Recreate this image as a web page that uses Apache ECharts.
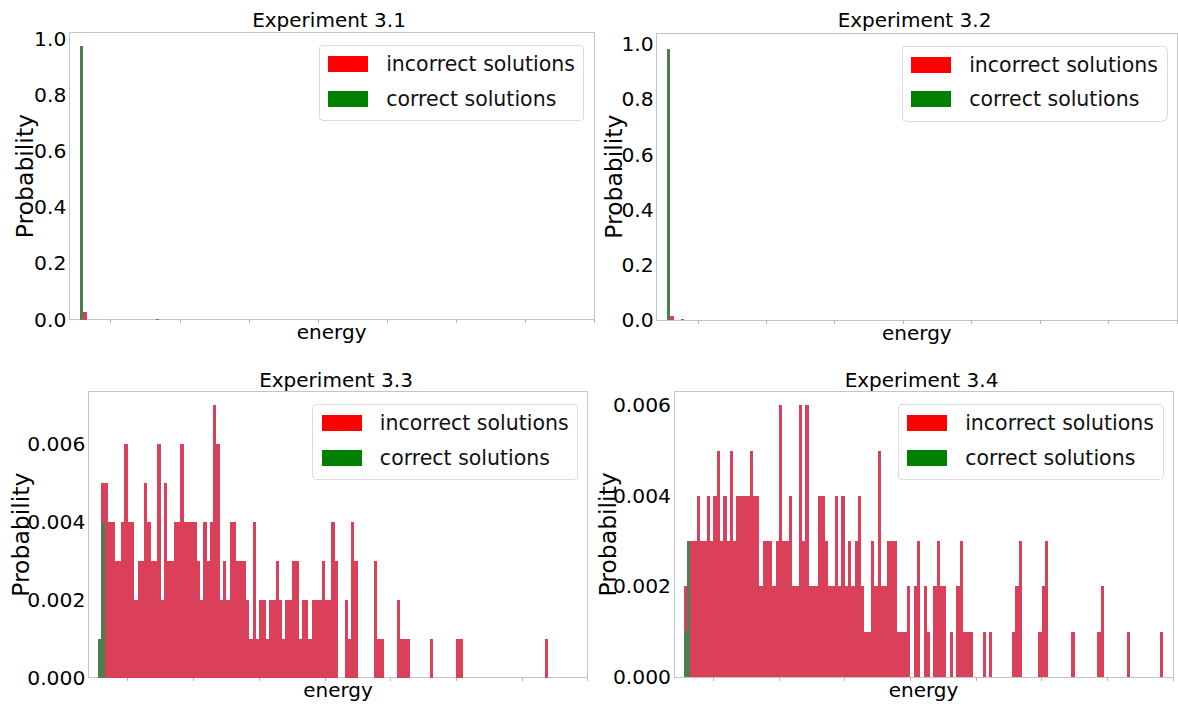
<!DOCTYPE html>
<html>
<head>
<meta charset="utf-8">
<script src="https://cdn.jsdelivr.net/npm/echarts@6/dist/echarts.min.js"></script>
<style>
  html, body { margin: 0; padding: 0; background: #ffffff; }
  #chart { width: 1178px; height: 704px; }
  #chart svg path { shape-rendering: crispEdges; }
</style>
</head>
<body>
<div id="chart"></div>
<script>
// ---------------- DATA ----------------
const NBINS = 152;                       // energy bins across each x axis
const energyBins = Array.from({ length: NBINS }, (_, i) => String(i - 12));
const titles = ['Experiment 3.1', 'Experiment 3.2', 'Experiment 3.3', 'Experiment 3.4'];
const seriesNames = ['incorrect solutions', 'correct solutions'];
const xAxisName = 'energy';
const yAxisName = 'Probability';
const yTicksTop = ['0.0', '0.2', '0.4', '0.6', '0.8', '1.0'];
const yTicksBottom = ['0.000', '0.002', '0.004', '0.006'];

// sparse panels: [binIndex, probability]
const exp31Correct = [[3, 0.974]];
const exp31Incorrect = [[4, 0.026], [25, 0.002]];
const exp32Correct = [[3, 0.984]];
const exp32Incorrect = [[4, 0.016], [7, 0.002]];
const exp33Correct = [[3, 0.001], [4, 0.004]];
const exp34Correct = [[3, 0.001], [4, 0.003]];

// dense panels: probability per energy bin (152 bins)
const exp33Incorrect = [
  0, 0, 0, 0, 0.005, 0.005, 0.004, 0.004, 0.003, 0.003,
  0.004, 0.006, 0.004, 0.004, 0.002, 0.003, 0.003, 0.005, 0.004, 0.003,
  0.003, 0.006, 0.002, 0.005, 0.003, 0.003, 0.004, 0.004, 0.006, 0.004,
  0.004, 0.004, 0.004, 0.003, 0.002, 0.004, 0.003, 0.004, 0.007, 0.006,
  0.002, 0.003, 0.002, 0.004, 0.004, 0.003, 0.003, 0.003, 0.002, 0.001,
  0.004, 0.001, 0.002, 0.002, 0.001, 0.002, 0.002, 0.003, 0.002, 0.001,
  0.002, 0.002, 0.003, 0.003, 0.001, 0.002, 0.002, 0.001, 0.002, 0.002,
  0.002, 0.003, 0.002, 0.002, 0.004, 0.003, 0, 0, 0.002, 0.001,
  0.004, 0.003, 0, 0, 0, 0, 0, 0.003, 0.001, 0.001,
  0, 0, 0, 0, 0.002, 0.001, 0.001, 0.001, 0, 0,
  0, 0, 0, 0, 0.001, 0, 0, 0, 0, 0,
  0, 0, 0.001, 0.001, 0, 0, 0, 0, 0, 0,
  0, 0, 0, 0, 0, 0, 0, 0, 0, 0,
  0, 0, 0, 0, 0, 0, 0, 0, 0, 0.001,
  0, 0, 0, 0, 0, 0, 0, 0, 0, 0,
  0, 0
];
const exp34Incorrect = [
  0, 0, 0, 0.002, 0.002, 0.003, 0.003, 0.004, 0.003, 0.003,
  0.004, 0.003, 0.004, 0.005, 0.003, 0.004, 0.003, 0.005, 0.003, 0.004,
  0.004, 0.004, 0.004, 0.005, 0.004, 0.004, 0.002, 0.003, 0.003, 0.003,
  0.002, 0.003, 0.006, 0.003, 0.003, 0.004, 0.002, 0.002, 0.006, 0.003,
  0.006, 0.002, 0.002, 0.002, 0.004, 0.004, 0.003, 0.002, 0.002, 0.004,
  0.002, 0.004, 0.002, 0.003, 0.002, 0.003, 0.004, 0.002, 0.001, 0.001,
  0.003, 0.002, 0.005, 0.002, 0.002, 0.003, 0.003, 0.003, 0.001, 0.001,
  0.001, 0.002, 0, 0.002, 0.003, 0, 0.002, 0.001, 0, 0.002,
  0.003, 0.002, 0.002, 0, 0.001, 0, 0.002, 0.003, 0.001, 0.001,
  0.001, 0, 0, 0, 0.001, 0, 0.001, 0, 0, 0,
  0, 0, 0, 0.001, 0.002, 0.003, 0, 0, 0, 0,
  0, 0.001, 0.002, 0.003, 0, 0, 0, 0, 0, 0,
  0, 0.001, 0, 0, 0, 0, 0, 0, 0, 0.001,
  0.002, 0, 0, 0, 0, 0, 0, 0, 0.001, 0,
  0, 0, 0, 0, 0, 0, 0, 0, 0.001, 0,
  0, 0
];

// ---------------- LAYOUT / STYLE ----------------
const FONT = 'DejaVu Sans';
const RED_BAR = '#da4059';
const GREEN_BAR = '#4b7f50';
const panels = [
  { grid: { left: 69.3, top: 32.7, width: 524.7, height: 286.8 }, yMax: 1.023, yInt: 0.2, ticks: yTicksTop,
    nameGap: 32.5, legend: { right: 594, top: 45.3 }, title: { x: 329, y: 9.5 },
    incorrect: exp31Incorrect, correct: exp31Correct },
  { grid: { left: 656.7, top: 33.3, width: 520.3, height: 286.7 }, yMax: 1.04, yInt: 0.2, ticks: yTicksTop,
    nameGap: 31.5, legend: { right: 11, top: 46 }, title: { x: 914.5, y: 9.5 },
    incorrect: exp32Incorrect, correct: exp32Correct },
  { grid: { left: 88.3, top: 391.7, width: 499.4, height: 286 }, yMax: 0.00735, yInt: 0.002, ticks: yTicksBottom,
    nameGap: 55.5, legend: { right: 600.3, top: 404.3 }, title: { x: 336, y: 370 },
    incorrect: exp33Incorrect, correct: exp33Correct },
  { grid: { left: 674, top: 391.7, width: 499, height: 285.3 }, yMax: 0.0063, yInt: 0.002, ticks: yTicksBottom,
    nameGap: 55, legend: { right: 15, top: 404.3 }, title: { x: 921.5, y: 370 },
    incorrect: exp34Incorrect, correct: exp34Correct }
];

const option = {
  animation: false,
  backgroundColor: '#ffffff',
  textStyle: { fontFamily: FONT },
  title: [], grid: [], xAxis: [], yAxis: [], legend: [], series: []
};

panels.forEach((p, k) => {
  option.title.push({
    text: titles[k], left: p.title.x, top: p.title.y, textAlign: 'center', padding: 0,
    textStyle: { fontSize: 20, fontWeight: 'normal', color: '#000', fontFamily: FONT, lineHeight: 20 }
  });
  option.grid.push(Object.assign({
    show: true, borderColor: '#c4c4c4', borderWidth: 1, backgroundColor: 'transparent',
    containLabel: false, outerBoundsMode: 'none'
  }, p.grid));
  option.xAxis.push({
    type: 'category', gridIndex: k, data: energyBins, boundaryGap: true,
    name: xAxisName, nameLocation: 'middle', nameGap: 2.5,
    nameTextStyle: { fontSize: 20, color: '#000', fontFamily: FONT, lineHeight: 20 },
    axisLine: { show: false },
    axisTick: { show: true, length: 3.5, interval: (i) => i >= 12 && (i - 12) % 20 === 0,
                lineStyle: { color: '#b5b5b5', width: 1 } },
    axisLabel: { show: false },
    splitLine: { show: false }
  });
  option.yAxis.push({
    type: 'value', gridIndex: k, min: 0, max: p.yMax, interval: p.yInt,
    name: yAxisName, nameLocation: 'middle', nameGap: p.nameGap, nameMoveOverlap: false,
    nameTextStyle: { fontSize: 23.5, color: '#000', fontFamily: FONT, lineHeight: 23 },
    axisLine: { show: false }, axisTick: { show: false }, splitLine: { show: false },
    axisLabel: {
      show: true, margin: 3, fontSize: 20.3, color: '#000', fontFamily: FONT,
      showMaxLabel: false, showMinLabel: true,
      formatter: (v, i) => (p.ticks[i] !== undefined ? p.ticks[i] : '')
    }
  });
  option.legend.push({
    orient: 'vertical', right: p.legend.right, top: p.legend.top,
    data: [
      { name: seriesNames[0], itemStyle: { color: '#ff0000' } },
      { name: seriesNames[1], itemStyle: { color: '#008000' } }
    ],
    icon: 'rect', itemWidth: 40, itemHeight: 16, itemGap: 12.7,
    padding: [7.7, 9, 10.6, 9],
    backgroundColor: '#ffffff', borderColor: '#dcdcdc', borderWidth: 1, borderRadius: 4,
    selectedMode: false,
    textStyle: { fontSize: 20.5, color: '#111', fontFamily: FONT, lineHeight: 22, padding: [0, 0, 0, 13] }
  });
  option.series.push({
    type: 'bar', name: seriesNames[0], xAxisIndex: k, yAxisIndex: k, data: p.incorrect,
    barGap: '-100%', barCategoryGap: '0%', itemStyle: { color: RED_BAR }, silent: true
  });
  option.series.push({
    type: 'bar', name: seriesNames[1], xAxisIndex: k, yAxisIndex: k, data: p.correct,
    barGap: '-100%', barCategoryGap: '0%', itemStyle: { color: GREEN_BAR }, silent: true
  });
});

const chart = echarts.init(document.getElementById('chart'), null, { renderer: 'svg' });
chart.setOption(option);
</script>
</body>
</html>
